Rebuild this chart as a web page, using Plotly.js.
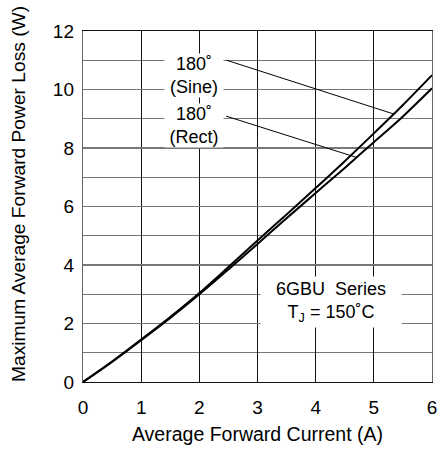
<!DOCTYPE html>
<html>
<head>
<meta charset="utf-8">
<script src="https://cdn.plot.ly/plotly-3.0.1.min.js"></script>
<style>html,body{margin:0;padding:0;background:#fff;}#chart{width:440px;height:450px;}</style>
</head>
<body>
<div id="chart"></div>
<script>
// Data
const current = [0, 0.5, 1, 1.5, 2, 2.5, 3, 3.5, 4, 4.5, 5, 5.5, 6];
const lossSine = [0, 0.70, 1.45, 2.22, 3.04, 3.93, 4.84, 5.73, 6.63, 7.55, 8.50, 9.47, 10.49];
const lossRect = [0, 0.69, 1.43, 2.19, 3.00, 3.85, 4.72, 5.60, 6.46, 7.32, 8.20, 9.08, 10.04];
const xTicks = [0, 1, 2, 3, 4, 5, 6];
const yTicks = [0, 2, 4, 6, 8, 10, 12];

const FONT = 'Liberation Sans, Arial, sans-serif';

const traces = [
  {x: current, y: lossSine, mode: 'lines', name: '180˚ (Sine)',
   line: {color: '#000', width: 2, shape: 'spline'}},
  {x: current, y: lossRect, mode: 'lines', name: '180˚ (Rect)',
   line: {color: '#000', width: 2, shape: 'spline'}}
];

const layout = {
  width: 440, height: 450,
  margin: {l: 83, r: 8, t: 31, b: 68},
  paper_bgcolor: '#fff', plot_bgcolor: '#fff',
  showlegend: false,
  font: {family: FONT, color: '#000', size: 19},
  xaxis: {
    range: [0, 6], tickvals: xTicks, ticks: '', ticklabelstandoff: 8,
    showgrid: true, gridcolor: '#111', gridwidth: 1,
    showline: true, linecolor: '#111', linewidth: 1, mirror: true,
    zeroline: false, fixedrange: true,
    tickfont: {size: 19},
    title: {text: 'Average Forward Current (A)', font: {size: 19.5}, standoff: 10}
  },
  yaxis: {
    range: [0, 12], tickvals: yTicks, ticks: '', ticklabelstandoff: 4,
    showgrid: true, gridcolor: '#777', gridwidth: 1.2,
    minor: {dtick: 1, showgrid: true, gridcolor: '#777', gridwidth: 1.2},
    showline: true, linecolor: '#666', linewidth: 1.2, mirror: true,
    zeroline: false, fixedrange: true,
    tickfont: {size: 19}
  },
  shapes: [
    {type: 'line', xref: 'x', yref: 'y', x0: 2.47, y0: 11.0, x1: 5.33, y1: 9.17,
     line: {color: '#000', width: 1}},
    {type: 'line', xref: 'x', yref: 'y', x0: 2.46, y0: 9.09, x1: 4.70, y1: 7.68,
     line: {color: '#000', width: 1}}
  ],
  annotations: [
    {xref: 'paper', yref: 'paper', x: -0.183, y: 0.536, xanchor: 'center', yanchor: 'middle',
     text: 'Maximum Average Forward Power Loss (W)', textangle: -90, showarrow: false,
     font: {size: 19.2}},
    {xref: 'x', yref: 'y', x: 1.90, y: 10.49, text: '180˚<br>(Sine)', showarrow: false,
     font: {size: 18}, bgcolor: '#fff', width: 58, borderpad: 0, align: 'center'},
    {xref: 'x', yref: 'y', x: 1.90, y: 8.76, text: '180˚<br>(Rect)', showarrow: false,
     font: {size: 18}, bgcolor: '#fff', width: 58, borderpad: 0, align: 'center'},
    {xref: 'x', yref: 'y', x: 4.26, y: 2.72, text: '6GBU&nbsp; Series<br>T<sub>J</sub> = 150˚C', showarrow: false,
     font: {size: 18}, bgcolor: '#fff', width: 136, borderpad: 2, align: 'center'}
  ]
};

Plotly.newPlot('chart', traces, layout, {staticPlot: true, displayModeBar: false});
</script>
</body>
</html>
